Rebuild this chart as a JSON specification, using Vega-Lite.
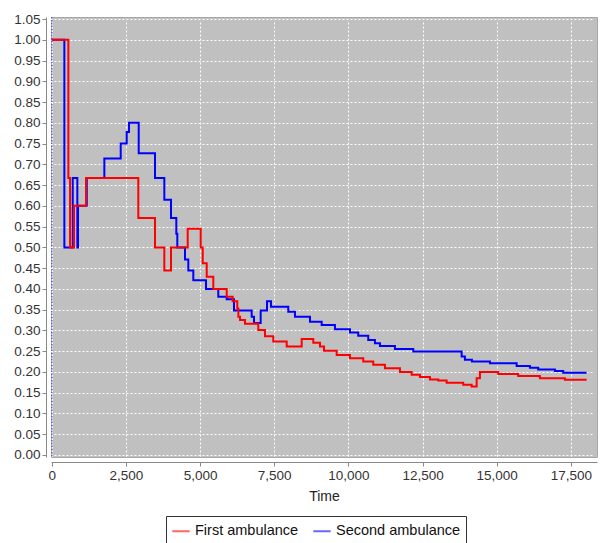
{
  "$schema": "https://vega.github.io/schema/vega-lite/v6.json",
  "width": 546,
  "height": 440,
  "autosize": {"type": "none"},
  "padding": {"left": 51, "top": 17, "right": 3, "bottom": 86},
  "background": "white",
  "config": {
    "font": "Liberation Sans",
    "view": {"fill": "#c0c0c0", "stroke": "#a8a8a8"},
    "axis": {
      "gridColor": "#ffffff",
      "gridDash": [2, 2],
      "gridWidth": 1,
      "gridOpacity": 1,
      "domainColor": "#888888",
      "tickColor": "#888888",
      "labelColor": "#333333",
      "labelFontSize": 13.5,
      "labelOverlap": false,
      "labelFlush": false,
      "titleColor": "#222222",
      "titleFontSize": 14,
      "titleFontWeight": "normal",
      "tickSize": 4,
      "labelPadding": 2,
      "offset": 5
    }
  },
  "datasets": {
    "km": [
      {"series": "First ambulance", "t": 0, "v": 1.0},
      {"series": "First ambulance", "t": 560, "v": 0.667},
      {"series": "First ambulance", "t": 617, "v": 0.5},
      {"series": "First ambulance", "t": 752, "v": 0.6},
      {"series": "First ambulance", "t": 1156, "v": 0.667},
      {"series": "First ambulance", "t": 2918, "v": 0.571},
      {"series": "First ambulance", "t": 3481, "v": 0.5},
      {"series": "First ambulance", "t": 3795, "v": 0.444},
      {"series": "First ambulance", "t": 4020, "v": 0.5},
      {"series": "First ambulance", "t": 4583, "v": 0.545},
      {"series": "First ambulance", "t": 5021, "v": 0.5},
      {"series": "First ambulance", "t": 5089, "v": 0.462},
      {"series": "First ambulance", "t": 5224, "v": 0.429},
      {"series": "First ambulance", "t": 5446, "v": 0.4},
      {"series": "First ambulance", "t": 5898, "v": 0.381},
      {"series": "First ambulance", "t": 6100, "v": 0.37},
      {"series": "First ambulance", "t": 6255, "v": 0.353},
      {"series": "First ambulance", "t": 6290, "v": 0.333},
      {"series": "First ambulance", "t": 6346, "v": 0.325},
      {"series": "First ambulance", "t": 6514, "v": 0.316},
      {"series": "First ambulance", "t": 6962, "v": 0.301},
      {"series": "First ambulance", "t": 7188, "v": 0.286},
      {"series": "First ambulance", "t": 7468, "v": 0.273},
      {"series": "First ambulance", "t": 7920, "v": 0.261},
      {"series": "First ambulance", "t": 8425, "v": 0.279},
      {"series": "First ambulance", "t": 8816, "v": 0.27},
      {"series": "First ambulance", "t": 9042, "v": 0.261},
      {"series": "First ambulance", "t": 9177, "v": 0.251},
      {"series": "First ambulance", "t": 9605, "v": 0.241},
      {"series": "First ambulance", "t": 10053, "v": 0.233},
      {"series": "First ambulance", "t": 10501, "v": 0.225},
      {"series": "First ambulance", "t": 10838, "v": 0.217},
      {"series": "First ambulance", "t": 11232, "v": 0.209},
      {"series": "First ambulance", "t": 11738, "v": 0.2},
      {"series": "First ambulance", "t": 12132, "v": 0.193},
      {"series": "First ambulance", "t": 12412, "v": 0.188},
      {"series": "First ambulance", "t": 12749, "v": 0.182},
      {"series": "First ambulance", "t": 13029, "v": 0.179},
      {"series": "First ambulance", "t": 13312, "v": 0.174},
      {"series": "First ambulance", "t": 13871, "v": 0.169},
      {"series": "First ambulance", "t": 14154, "v": 0.165},
      {"series": "First ambulance", "t": 14323, "v": 0.185},
      {"series": "First ambulance", "t": 14434, "v": 0.2},
      {"series": "First ambulance", "t": 15051, "v": 0.195},
      {"series": "First ambulance", "t": 15724, "v": 0.19},
      {"series": "First ambulance", "t": 16455, "v": 0.185},
      {"series": "First ambulance", "t": 17298, "v": 0.181},
      {"series": "First ambulance", "t": 18030, "v": 0.181},
      {"series": "Second ambulance", "t": 0, "v": 1.0},
      {"series": "Second ambulance", "t": 425, "v": 0.5},
      {"series": "Second ambulance", "t": 708, "v": 0.667},
      {"series": "Second ambulance", "t": 863, "v": 0.5},
      {"series": "Second ambulance", "t": 886, "v": 0.6},
      {"series": "Second ambulance", "t": 1180, "v": 0.667},
      {"series": "Second ambulance", "t": 1773, "v": 0.714},
      {"series": "Second ambulance", "t": 2325, "v": 0.75},
      {"series": "Second ambulance", "t": 2527, "v": 0.778},
      {"series": "Second ambulance", "t": 2605, "v": 0.8},
      {"series": "Second ambulance", "t": 2932, "v": 0.727},
      {"series": "Second ambulance", "t": 3481, "v": 0.667},
      {"series": "Second ambulance", "t": 3795, "v": 0.615},
      {"series": "Second ambulance", "t": 4020, "v": 0.571},
      {"series": "Second ambulance", "t": 4199, "v": 0.533},
      {"series": "Second ambulance", "t": 4233, "v": 0.5},
      {"series": "Second ambulance", "t": 4492, "v": 0.471},
      {"series": "Second ambulance", "t": 4603, "v": 0.444},
      {"series": "Second ambulance", "t": 4772, "v": 0.421},
      {"series": "Second ambulance", "t": 5200, "v": 0.4},
      {"series": "Second ambulance", "t": 5614, "v": 0.381},
      {"series": "Second ambulance", "t": 5898, "v": 0.375},
      {"series": "Second ambulance", "t": 6144, "v": 0.348},
      {"series": "Second ambulance", "t": 6740, "v": 0.333},
      {"series": "Second ambulance", "t": 6818, "v": 0.318},
      {"series": "Second ambulance", "t": 7043, "v": 0.348},
      {"series": "Second ambulance", "t": 7256, "v": 0.37},
      {"series": "Second ambulance", "t": 7390, "v": 0.357},
      {"series": "Second ambulance", "t": 7973, "v": 0.345},
      {"series": "Second ambulance", "t": 8199, "v": 0.333},
      {"series": "Second ambulance", "t": 8705, "v": 0.321},
      {"series": "Second ambulance", "t": 9099, "v": 0.313},
      {"series": "Second ambulance", "t": 9547, "v": 0.303},
      {"series": "Second ambulance", "t": 10053, "v": 0.295},
      {"series": "Second ambulance", "t": 10332, "v": 0.287},
      {"series": "Second ambulance", "t": 10669, "v": 0.277},
      {"series": "Second ambulance", "t": 10895, "v": 0.269},
      {"series": "Second ambulance", "t": 11064, "v": 0.2625},
      {"series": "Second ambulance", "t": 11569, "v": 0.255},
      {"series": "Second ambulance", "t": 12186, "v": 0.249},
      {"series": "Second ambulance", "t": 13817, "v": 0.237},
      {"series": "Second ambulance", "t": 13928, "v": 0.229},
      {"series": "Second ambulance", "t": 14164, "v": 0.225},
      {"series": "Second ambulance", "t": 14771, "v": 0.221},
      {"series": "Second ambulance", "t": 15671, "v": 0.214},
      {"series": "Second ambulance", "t": 16119, "v": 0.21},
      {"series": "Second ambulance", "t": 16399, "v": 0.206},
      {"series": "Second ambulance", "t": 16962, "v": 0.202},
      {"series": "Second ambulance", "t": 17241, "v": 0.198},
      {"series": "Second ambulance", "t": 18030, "v": 0.198}
    ],
    "zero": [{"t": 0}]
  },
  "layer": [
    {
      "data": {"name": "zero"},
      "mark": {"type": "rule", "color": "#5a5aff", "strokeDash": [1, 2], "strokeWidth": 1.5},
      "encoding": {
        "x": {"field": "t", "type": "quantitative", "title": "Time",
              "scale": {"domain": [-25, 18380], "nice": false, "zero": false},
              "axis": {"values": [0, 2500, 5000, 7500, 10000, 12500, 15000, 17500], "format": ",d", "titlePadding": 8, "labelOverlap": false}}
      }
    },
    {
      "data": {"name": "km"},
      "transform": [{"filter": "datum.series === 'Second ambulance'"}],
      "mark": {"type": "line", "interpolate": "step-after", "strokeWidth": 2},
      "encoding": {
        "x": {"field": "t", "type": "quantitative", "title": "Time",
              "scale": {"domain": [-25, 18380], "nice": false, "zero": false},
              "axis": {"values": [0, 2500, 5000, 7500, 10000, 12500, 15000, 17500], "format": ",d", "titlePadding": 8, "labelOverlap": false}},
        "y": {"field": "v", "type": "quantitative", "title": null,
              "scale": {"domain": [-0.005, 1.055], "nice": false, "zero": false},
              "axis": {"values": [0, 0.05, 0.1, 0.15, 0.2, 0.25, 0.3, 0.35, 0.4, 0.45, 0.5, 0.55, 0.6, 0.65, 0.7, 0.75, 0.8, 0.85, 0.9, 0.95, 1.0, 1.05], "format": ".2f", "labelOverlap": false}},
        "color": {"field": "series", "type": "nominal",
                  "scale": {"domain": ["First ambulance", "Second ambulance"], "range": ["#ff0000", "#0000ff"]},
                  "legend": {"title": null, "orient": "none", "legendX": 115, "legendY": 499, "direction": "horizontal",
                             "strokeColor": "#333333", "fillColor": "#ffffff", "padding": 5,
                             "symbolType": "stroke", "symbolSize": 300, "symbolStrokeWidth": 2, "symbolOpacity": 0.6,
                             "labelFontSize": 14.5, "labelColor": "#111111", "columnPadding": 10, "labelOffset": 4}}
      }
    },
    {
      "data": {"name": "km"},
      "transform": [{"filter": "datum.series === 'First ambulance'"}],
      "mark": {"type": "line", "interpolate": "step-after", "strokeWidth": 2},
      "encoding": {
        "x": {"field": "t", "type": "quantitative", "title": "Time",
              "scale": {"domain": [-25, 18380], "nice": false, "zero": false},
              "axis": {"values": [0, 2500, 5000, 7500, 10000, 12500, 15000, 17500], "format": ",d", "titlePadding": 8, "labelOverlap": false}},
        "y": {"field": "v", "type": "quantitative", "title": null,
              "scale": {"domain": [-0.005, 1.055], "nice": false, "zero": false},
              "axis": {"values": [0, 0.05, 0.1, 0.15, 0.2, 0.25, 0.3, 0.35, 0.4, 0.45, 0.5, 0.55, 0.6, 0.65, 0.7, 0.75, 0.8, 0.85, 0.9, 0.95, 1.0, 1.05], "format": ".2f", "labelOverlap": false}},
        "color": {"field": "series", "type": "nominal",
                  "scale": {"domain": ["First ambulance", "Second ambulance"], "range": ["#ff0000", "#0000ff"]},
                  "legend": {"title": null, "orient": "none", "legendX": 115, "legendY": 499, "direction": "horizontal",
                             "strokeColor": "#333333", "fillColor": "#ffffff", "padding": 5,
                             "symbolType": "stroke", "symbolSize": 300, "symbolStrokeWidth": 2, "symbolOpacity": 0.6,
                             "labelFontSize": 14.5, "labelColor": "#111111", "columnPadding": 10, "labelOffset": 4}}
      }
    }
  ]
}
